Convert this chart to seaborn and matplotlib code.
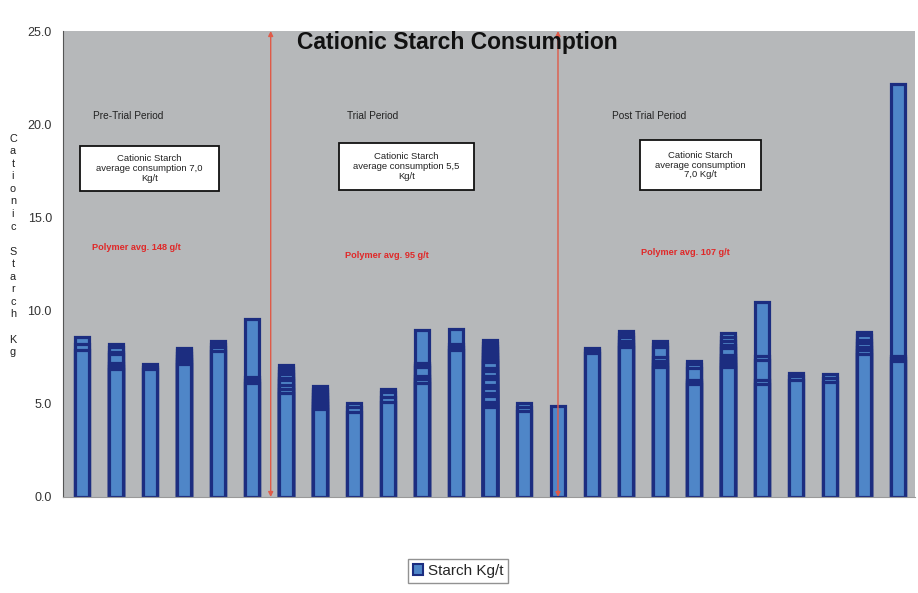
import numpy as np
import pandas as pd
import matplotlib.pyplot as plt
from matplotlib.patches import Rectangle, Patch
import seaborn as sns

sns.set_style("white")
plt.rcParams["font.family"] = ["Liberation Sans", "DejaVu Sans"]

# ---- data: each bar is a stack of readings (Kg/t), bottom first ----
segments = [
    [7.9, 0.33, 0.33],
    [6.85, 0.16, 0.16, 0.5, 0.13, 0.27, 0.14],
    [6.85, 0.13, 0.14],
    [7.12, 0.15, 0.15, 0.15, 0.15, 0.15, 0.14],
    [7.85, 0.2, 0.15, 0.15],
    [6.1, 0.16, 0.16, 3.11],
    [5.6, 0.2, 0.2, 0.25, 0.12, 0.25, 0.12, 0.17, 0.17],
    [4.7, 0.16, 0.16, 0.16, 0.16, 0.16, 0.16, 0.16, 0.16],
    [4.58, 0.24, 0.24],
    [5.12, 0.23, 0.27, 0.18],
    [6.14, 0.18, 0.17, 0.47, 0.1, 0.11, 1.79],
    [7.89, 0.16, 0.16, 0.79],
    [4.85, 0.14, 0.13, 0.3, 0.15, 0.3, 0.15, 0.3, 0.15, 0.3, 0.15, 0.3,
     0.15, 0.15, 0.15, 0.15, 0.15, 0.15, 0.15, 0.15],
    [4.62, 0.22, 0.22],
    [4.88],
    [7.75, 0.13, 0.13],
    [8.07, 0.15, 0.15, 0.2, 0.18, 0.18],
    [6.96, 0.18, 0.18, 0.18, 0.57, 0.16, 0.16],
    [6.06, 0.11, 0.11, 0.63, 0.2, 0.19],
    [6.96, 0.16, 0.17, 0.16, 0.17, 0.36, 0.2, 0.2, 0.2, 0.2],
    [6.06, 0.22, 1.07, 0.22, 2.91],
    [6.28, 0.2, 0.19],
    [6.19, 0.2, 0.21],
    [7.67, 0.19, 0.19, 0.19, 0.19, 0.26, 0.18],
    [7.32, 0.13, 0.12, 14.58],
]
periods = ["Pre-Trial Period", "Trial Period", "Post Trial Period"]
box_texts = [
    "Cationic Starch\naverage consumption 7,0\nKg/t",
    "Cationic Starch\naverage consumption 5,5\nKg/t",
    "Cationic Starch\naverage consumption\n7,0 Kg/t",
]
polymer_texts = ["Polymer avg. 148 g/t", "Polymer avg. 95 g/t", "Polymer avg. 107 g/t"]
yticks = [0, 5, 10, 15, 20, 25]

fill = "#4f86c8"
navy = "#1c2d80"
red = "#e05a48"

# ---- long table of cumulative tops (level 0 = bar total) ----
rows = []
for i, segs in enumerate(segments):
    cum = np.cumsum(segs)
    for k, c in enumerate(cum[::-1]):
        rows.append({"bar": i, "level": k, "kg": c})
df = pd.DataFrame(rows)
order = list(range(len(segments)))

fig = plt.figure(figsize=(9.18, 5.93), dpi=100)
ax = fig.add_axes([0.0686, 0.1619, 0.9281, 0.7858])
ax.set_facecolor("#b6b8ba")

for k in range(df["level"].max() + 1):
    sub = df[df["level"] == k]
    sns.barplot(data=sub, x="bar", y="kg", order=order, width=0.4,
                color=fill, saturation=1, edgecolor=navy, linewidth=2.3,
                errorbar=None, ax=ax)

ax.set_xlim(-0.56, 24.5)
ax.set_ylim(0, 25)
ax.set_yticks(yticks)
ax.set_yticklabels([f"{v:.1f}" for v in yticks], fontsize=9, color="#333333")
ax.set_xticks(order)
ax.set_xticklabels([""] * len(order))
ax.tick_params(length=0, pad=8)
ax.set_xlabel("")
ax.set_ylabel("\n".join("Cationic Starch Kg"), rotation=0, fontsize=7.8,
              linespacing=1.32, color="#222222", va="center", ha="center")
ax.yaxis.set_label_coords(-0.0587, 0.54)

for s in ["top", "right"]:
    ax.spines[s].set_visible(False)
ax.spines["left"].set_color("#555555")
ax.spines["bottom"].set_color("#999999")

# period dividers
for xpos in [5.55, 14.0]:
    ax.annotate("", xy=(xpos, 25), xytext=(xpos, 0),
                arrowprops=dict(arrowstyle="<|-|>", color=red, lw=1.0,
                                mutation_scale=7, shrinkA=0, shrinkB=0))

# period annotations
label_x = [0.32, 7.79, 15.59]
for x, t in zip(label_x, periods):
    ax.text(x, 20.44, t, fontsize=7.3, ha="left", va="center", color="#222222")

boxes = [(-0.06, 16.42, 4.09, 2.41), (7.56, 16.47, 3.97, 2.52), (16.41, 16.47, 3.56, 2.68)]
for (bx, by, bw, bh), t in zip(boxes, box_texts):
    ax.add_patch(Rectangle((bx, by), bw, bh, facecolor="white",
                           edgecolor="#111111", lw=1.3, zorder=3))
    ax.text(bx + bw / 2, by + bh / 2, t, fontsize=6.8, ha="center", va="center",
            linespacing=1.1, color="#222222", zorder=4)

poly_pos = [(0.29, 13.36), (7.74, 12.98), (16.44, 13.14)]
for (px, py), t in zip(poly_pos, polymer_texts):
    ax.text(px, py, t, fontsize=6.6, fontweight="bold", color="#e02828",
            ha="left", va="center")

fig.text(0.498, 0.929, "Cationic Starch Consumption", fontsize=16.5,
         fontweight="bold", ha="center", va="center", color="#111111", zorder=5)

fig.legend(handles=[Patch(facecolor=fill, edgecolor=navy, lw=1.5, label="Starch Kg/t")],
           loc="center", bbox_to_anchor=(0.499, 0.037), frameon=True,
           fancybox=False, edgecolor="#777777", handlelength=0.7,
           handleheight=0.7, handletextpad=0.3, borderpad=0.3, fontsize=11)

fig.savefig("out.png", dpi=100)
